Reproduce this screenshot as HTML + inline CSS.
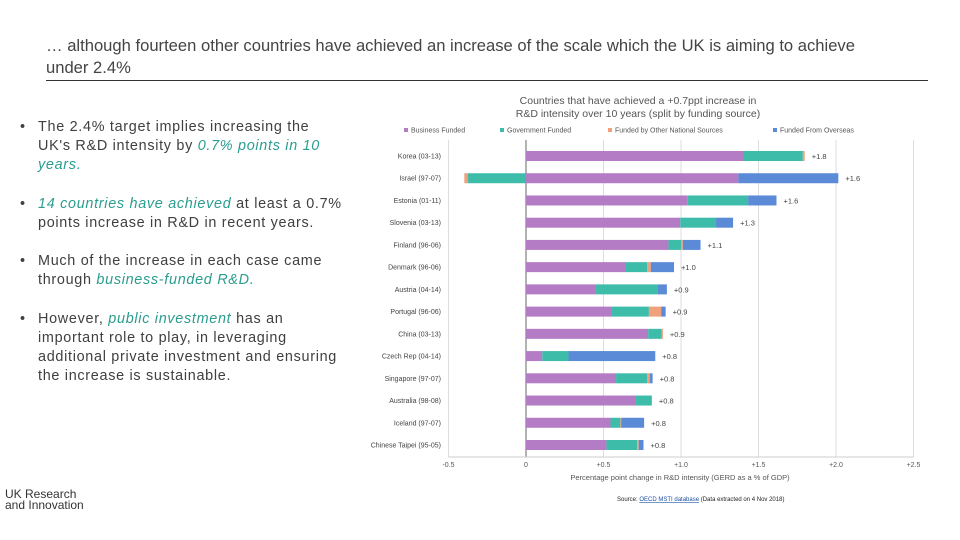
<!DOCTYPE html>
<html><head><meta charset="utf-8">
<style>
body{margin:0;width:960px;height:540px;background:#fff;position:relative;overflow:hidden;font-family:"Liberation Sans",sans-serif;}
#heading{position:absolute;left:46px;top:35px;width:820px;font-size:16.6px;line-height:22px;color:#444;}
#rule{position:absolute;left:46px;top:80px;width:882px;height:1px;background:#333;}
.bul{position:absolute;left:20px;width:340px;font-size:14.4px;line-height:19px;color:#404040;white-space:nowrap;letter-spacing:0.7px;}
.bul span.dot{position:absolute;left:0;}
.bul div.t{margin-left:18px;}
.hl{color:#2a9d8f;font-style:italic;}
#logo{position:absolute;left:5px;top:489px;font-size:12px;line-height:10.5px;color:#333;}
</style></head>
<body>
<div id="heading">… although fourteen other countries have achieved an increase of the scale which the UK is aiming to achieve under 2.4%</div>
<div id="rule"></div>
<div class="bul" style="top:118px"><span class="dot">•</span><div class="t">The 2.4% target implies increasing the<br>UK's R&amp;D intensity by <span class="hl">0.7% points in 10<br>years.</span></div></div>
<div class="bul" style="top:195px"><span class="dot">•</span><div class="t"><span class="hl">14 countries have achieved</span> at least a 0.7%<br>points increase in R&amp;D in recent years.</div></div>
<div class="bul" style="top:252px"><span class="dot">•</span><div class="t">Much of the increase in each case came<br>through <span class="hl">business-funded R&amp;D.</span></div></div>
<div class="bul" style="top:310px"><span class="dot">•</span><div class="t">However, <span class="hl">public investment</span> has an<br>important role to play, in leveraging<br>additional private investment and ensuring<br>the increase is sustainable.</div></div>
<div id="logo">UK Research<br>and Innovation</div>
<svg id="chart" width="960" height="540" style="position:absolute;left:0;top:0"></svg>
<script>
const countries=["Korea (03-13)","Israel (97-07)","Estonia (01-11)","Slovenia (03-13)","Finland (96-06)","Denmark (96-06)","Austria (04-14)","Portugal (96-06)","China (03-13)","Czech Rep (04-14)","Singapore (97-07)","Australia (98-08)","Iceland (97-07)","Chinese Taipei (95-05)"];
const business=[1.40,1.37,1.04,0.995,0.919,0.645,0.452,0.555,0.788,0.105,0.581,0.71,0.545,0.519];
const government=[0.386,-0.374,0.393,0.231,0.081,0.136,0.395,0.238,0.088,0.169,0.2,0.102,0.064,0.198];
const otherNational=[0.012,-0.024,0,0,0.012,0.024,0,0.079,0.007,0,0.017,0,0.005,0.01];
const overseas=[0,0.645,0.183,0.11,0.114,0.15,0.062,0.029,0,0.56,0.019,0,0.148,0.031];
const totals=["+1.8","+1.6","+1.6","+1.3","+1.1","+1.0","+0.9","+0.9","+0.9","+0.8","+0.8","+0.8","+0.8","+0.8"];
const xTicks=[-0.5,0,0.5,1.0,1.5,2.0,2.5];
const xTickLabels=["-0.5","0","+0.5","+1.0","+1.5","+2.0","+2.5"];
const seriesNames=["Business Funded","Government Funded","Funded by Other National Sources","Funded From Overseas"];
const colors=["#b57cc6","#3dbcaa","#f0a07a","#5b8bd6"];
const NS="http://www.w3.org/2000/svg";
const svg=document.getElementById('chart');
const x=v=>526+(v)*155;
const y=i=>156+i*22.23;
function mk(t,a,p){const e=document.createElementNS(NS,t);for(const k in a)e.setAttribute(k,a[k]);(p||svg).appendChild(e);return e;}
xTicks.forEach((t,i)=>{
  const g=mk('line',{x1:x(t),x2:x(t),y1:140,y2:457,stroke:t===0?'#999':'#ddd','stroke-width':t===0?1.5:1});
  
  
  const tl=mk('text',{x:x(t),y:467,'font-size':7,fill:'#555','text-anchor':'middle'});
  tl.textContent=xTickLabels[i];
  
  
});
const ax=mk('line',{x1:x(-0.5),x2:x(2.5),y1:457,y2:457,stroke:'#ccc'});


const series=[business,government,otherNational,overseas];
countries.forEach((c,i)=>{
  let pos=0,neg=0;
  series.forEach((s,k)=>{
    const v=s[i];if(!v)return;
    let x0,x1;
    if(v>=0){x0=x(pos);pos+=v;x1=x(pos);}else{x1=x(neg);neg+=v;x0=x(neg);}
    const r=mk('rect',{x:x0,y:y(i)-5,width:Math.max(0,x1-x0),height:10,fill:colors[k]});
    
    
  });
  const l=mk('text',{x:441,y:y(i)+2.5,'font-size':7,fill:'#444','text-anchor':'end'});
  l.textContent=c;
  
  
  const tv=mk('text',{x:x(pos)+7,y:y(i)+3,'font-size':7.5,fill:'#444'});
  tv.textContent=totals[i];
  
  
});
const t1=mk('text',{x:638,y:104,'font-size':10.5,fill:'#555','text-anchor':'middle'});t1.textContent="Countries that have achieved a +0.7ppt increase in";


const t2=mk('text',{x:638,y:117,'font-size':10.5,fill:'#555','text-anchor':'middle'});t2.textContent="R&D intensity over 10 years (split by funding source)";


const legX=[404,500,608,773];
seriesNames.forEach((n,k)=>{
  const r=mk('rect',{x:legX[k],y:128,width:4,height:4,fill:colors[k]});
  
  
  const t=mk('text',{x:legX[k]+7,y:132.5,'font-size':7,fill:'#555'});t.textContent=n;
  
  
});
const at=mk('text',{x:680,y:480,'font-size':7.5,fill:'#555','text-anchor':'middle'});at.textContent="Percentage point change in R&D intensity (GERD as a % of GDP)";


const src=mk('text',{x:617,y:501,'font-size':6,fill:'#222'});


const a=mk('tspan',{fill:'#1a4fa0','text-decoration':'underline'},src);
src.insertBefore(document.createTextNode('Source: '),a);
a.textContent='OECD MSTI database';


src.appendChild(document.createTextNode(' (Data extracted on 4 Nov 2018)'));
</script>
</body></html>
